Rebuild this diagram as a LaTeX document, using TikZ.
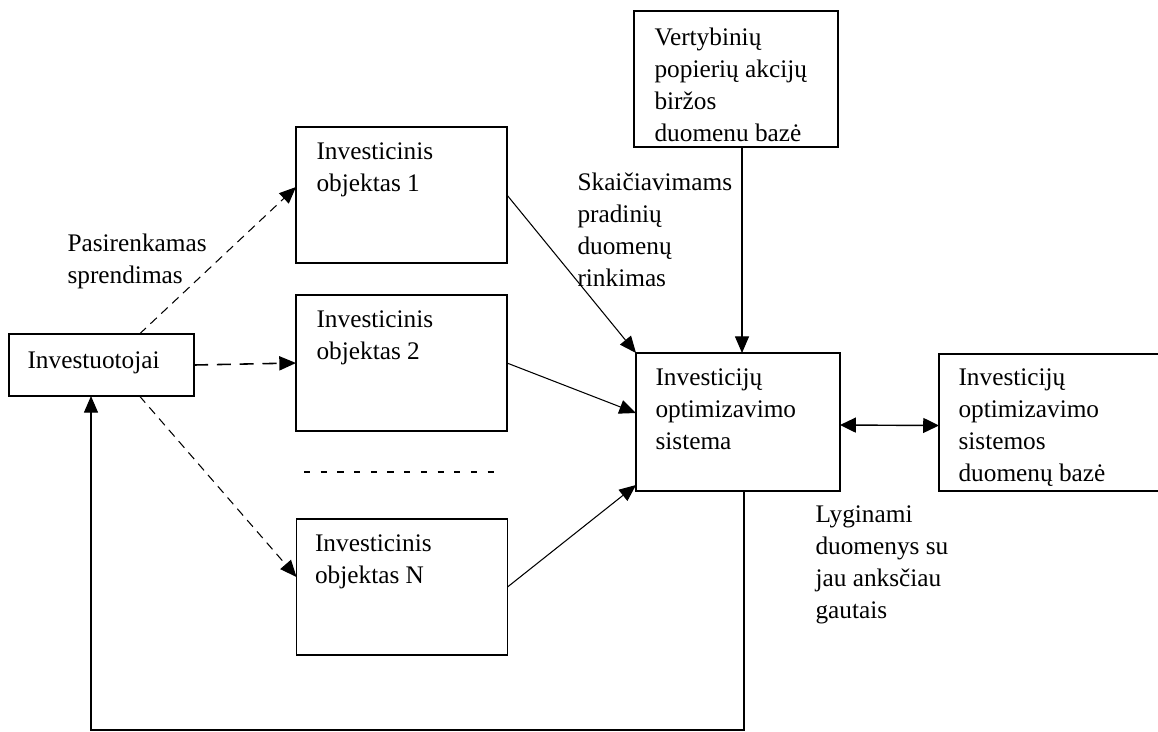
\documentclass[tikz,border=0pt]{standalone}
\usepackage{fontspec}
\setmainfont{Liberation Serif}
\usetikzlibrary{arrows.meta}

\tikzset{
  box/.style={draw, line width=.8pt, rectangle, inner sep=0pt, outer sep=0pt},
  txt/.style={anchor=north west, inner sep=0pt, align=left,
    font=\fontsize{14.4}{18.2}\selectfont},
  tip/.style={-{Triangle[length=9.5pt,width=8pt]}},
  choice/.style={tip, dash pattern=on 5pt off 3.5pt},
}

\begin{document}
\begin{tikzpicture}[x=0.02cm, y=-0.02cm, line width=.6pt]
	\useasboundingbox (0,0) rectangle (1158,731);
	% blokai
	\node[box, minimum width=3.7cm, minimum height=1.24cm] (inv) at (101.5,365) {};
	\node[box, minimum width=4.22cm, minimum height=2.72cm] (obj1) at (401.5,195) {};
	\node[box, minimum width=4.22cm, minimum height=2.72cm] (obj2) at (401.5,363) {};
	\node[box, minimum width=4.22cm, minimum height=2.72cm] (objN) at (402,587) {};
	\node[box, minimum width=4.08cm, minimum height=2.72cm] (vert) at (736,79) {};
	\node[box, minimum width=4.08cm, minimum height=2.76cm] (sist) at (738,422) {};
	\node[box, minimum width=4.52cm, minimum height=2.74cm] (baze) at (1052,422.5) {};
	% tekstai
	\node[txt] (invT) at ([shift={(18,17)}]inv.north west) {Investuotojai};
	\node[txt] (obj1T) at ([shift={(20,15)}]obj1.north west) {Investicinis\\objektas 1};
	\node[txt] (obj2T) at ([shift={(20,15)}]obj2.north west) {Investicinis\\objektas 2};
	\node[txt] (objNT) at ([shift={(18,15)}]objN.north west) {Investicinis\\objektas N};
	\node[txt] (vertT) at ([shift={(20,16)}]vert.north west) {Vertybinių\\popierių akcijų\\biržos\\duomenu bazė};
	\node[txt] (sistT) at ([shift={(19,15)}]sist.north west) {Investicijų\\optimizavimo\\sistema};
	\node[txt] (bazeT) at ([shift={(19,14)}]baze.north west) {Investicijų\\optimizavimo\\sistemos\\duomenų bazė};
	\node[txt] (pasirinkimas) at (67,233) {Pasirenkamas\\sprendimas};
	\node[txt] (rinkimas) at (577,172) {Skaičiavimams\\pradinių\\duomenų\\rinkimas};
	\node[txt] (lyginimas) at (815,505) {Lyginami\\duomenys su\\jau anksčiau\\gautais};
	% rodykles
	\draw[choice] ([shift={(38,0)}]inv.north) -- ([shift={(0,-8)}]obj1.west);
	\draw[tip, line width=.9pt, dash pattern=on 8pt off 5pt] (inv.east) -- (obj2.west);
	\draw[choice] ([shift={(38,0)}]inv.south) -- ([shift={(0,-10)}]objN.west);
	\draw[dash pattern=on 3.5pt off 6pt, line width=.8pt] (304,472) -- (498,472);
	\draw[tip] (obj1.east) -- (sist.north west);
	\draw[tip] (obj2.east) -- ([shift={(0,-9)}]sist.west);
	\draw[tip] (objN.east) -- ([shift={(0,-6)}]sist.south west);
	\draw[tip] ([shift={(6,0)}]vert.south) -- ([shift={(6,0)}]vert.south |- sist.north);
	\draw[line width=.8pt, {Triangle[length=9pt,width=8.5pt]}-{Triangle[length=9pt,width=8.5pt]}]
		([shift={(0,3)}]sist.east) -- ([shift={(0,3)}]baze.west);
	\draw[tip] ([shift={(6,0)}]sist.south) -- ++(0,239) -| ([shift={(-10.5,0)}]inv.south);
\end{tikzpicture}
\end{document}
